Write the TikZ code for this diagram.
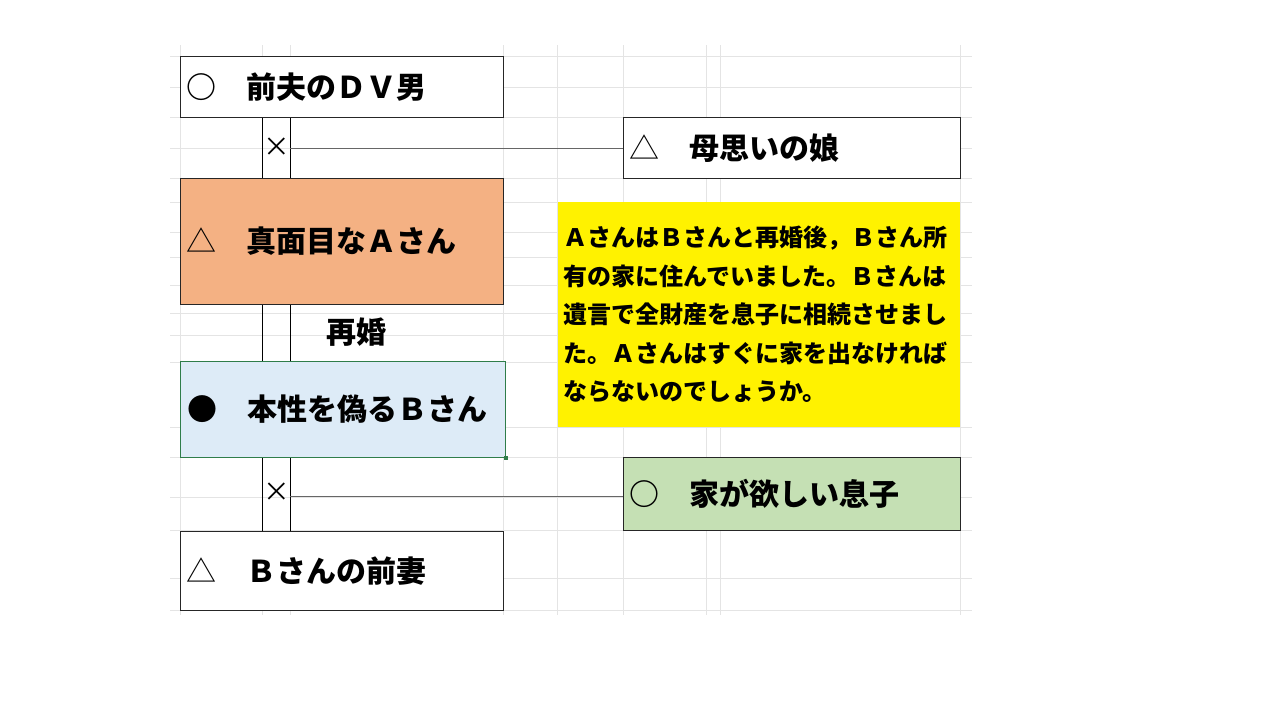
\documentclass[tikz,border=0pt]{standalone}
\usepackage{fontspec}
\setmainfont{Noto Sans CJK JP}
\usepackage{tikz}
\usetikzlibrary{positioning, calc}
\definecolor{salmon}{HTML}{F4B183}
\definecolor{paleblue}{HTML}{DDEBF7}
\definecolor{palegreen}{HTML}{C5E0B4}
\definecolor{selgreen}{HTML}{2F7D4A}
\definecolor{gridgray}{HTML}{E4E4E4}
\tikzstyle{lbox} = [rectangle, anchor=north west, draw=black!85, fill=white, line width=0.8pt, minimum width=242.25pt, text width=233.25pt, inner xsep=4.5pt, inner ysep=0pt, align=left, font=\fontsize{22.5}{27}\selectfont\bfseries]
\tikzstyle{rbox} = [lbox, minimum width=252.75pt, text width=243.75pt]
\tikzstyle{memo} = [rectangle, anchor=north west, fill=yellow, minimum width=301.5pt, minimum height=168.75pt, text width=294pt, inner xsep=3.75pt, inner ysep=0pt, align=left, font=\fontsize{18}{28.9}\selectfont\bfseries]
\tikzstyle{tie} = [draw=black, line width=0.6pt]
\tikzstyle{link} = [draw=black!60, line width=0.6pt]
\tikzstyle{cross} = [font=\fontsize{20}{24}\selectfont]
\newcommand{\tri}{{\mdseries △}}

\begin{document}
\begin{tikzpicture}[x=0.75pt, y=-0.75pt]
    \useasboundingbox (0,0) rectangle (1280,720);
    %背景网格
    \foreach \gx in {180,262,290,503,557,623,706,720,960}
        \draw[gridgray, line width=0.5pt] (\gx,45) -- (\gx,615);
    \foreach \gy in {56,87,117,148,178,202,232,257,285,313,335,362,427,457,497,530,578,610}
        \draw[gridgray, line width=0.5pt] (170,\gy) -- (972,\gy);

    %人物框
    \node (dv) [lbox, minimum height=45.75pt] at (180,56) {○　前夫のＤＶ男};
    \node (dau) [rbox, minimum height=45.75pt] at (623,117) {\tri　母思いの娘};
    \node (a) [lbox, fill=salmon, minimum height=94.5pt] at (180,178) {\tri　真面目なＡさん};
    \node (b) [lbox, fill=paleblue, draw=selgreen, minimum height=72pt, minimum width=243.75pt] at (180,361) {●　本性を偽るＢさん};
    \node (ex) [lbox, minimum height=59.25pt] at (180,531) {\tri　Ｂさんの前妻};
    \node (son) [rbox, fill=palegreen, minimum height=54.75pt] at (623,457) {○　家が欲しい息子};
    \node (memo) [memo] at (558,202) {ＡさんはＢさんと再婚後，Ｂさん所\\有の家に住んでいました。Ｂさんは\\遺言で全財産を息子に相続させまし\\た。Ａさんはすぐに家を出なければ\\ならないのでしょうか。};
    \fill[selgreen] ($(b.south east)+(-2,-2)$) rectangle ($(b.south east)+(2,2)$);

    %连接线
    \draw [tie] ($(dv.south west)+(82,0)$) -- ($(a.north west)+(82,0)$);
    \draw [tie] ($(dv.south west)+(110,0)$) -- ($(a.north west)+(110,0)$);
    \draw [tie] ($(a.south west)+(82,0)$) -- ($(b.north west)+(82,0)$);
    \draw [tie] ($(a.south west)+(110,0)$) -- ($(b.north west)+(110,0)$);
    \draw [tie] ($(b.south west)+(82,0)$) -- ($(ex.north west)+(82,0)$);
    \draw [tie] ($(b.south west)+(110,0)$) -- ($(ex.north west)+(110,0)$);
    \node (x1) [cross] at (277,147) {×};
    \node (x2) [cross] at (277,492) {×};
    \node (rem) [font=\fontsize{22.5}{27}\selectfont\bfseries] at (356,332) {再婚};
    \coordinate (j1) at (290,148);
    \coordinate (j2) at (290,496);
    \draw [link] (j1) -- (j1 -| dau.west);
    \draw [link] (j2) -- (j2 -| son.west);
\end{tikzpicture}
\end{document}
